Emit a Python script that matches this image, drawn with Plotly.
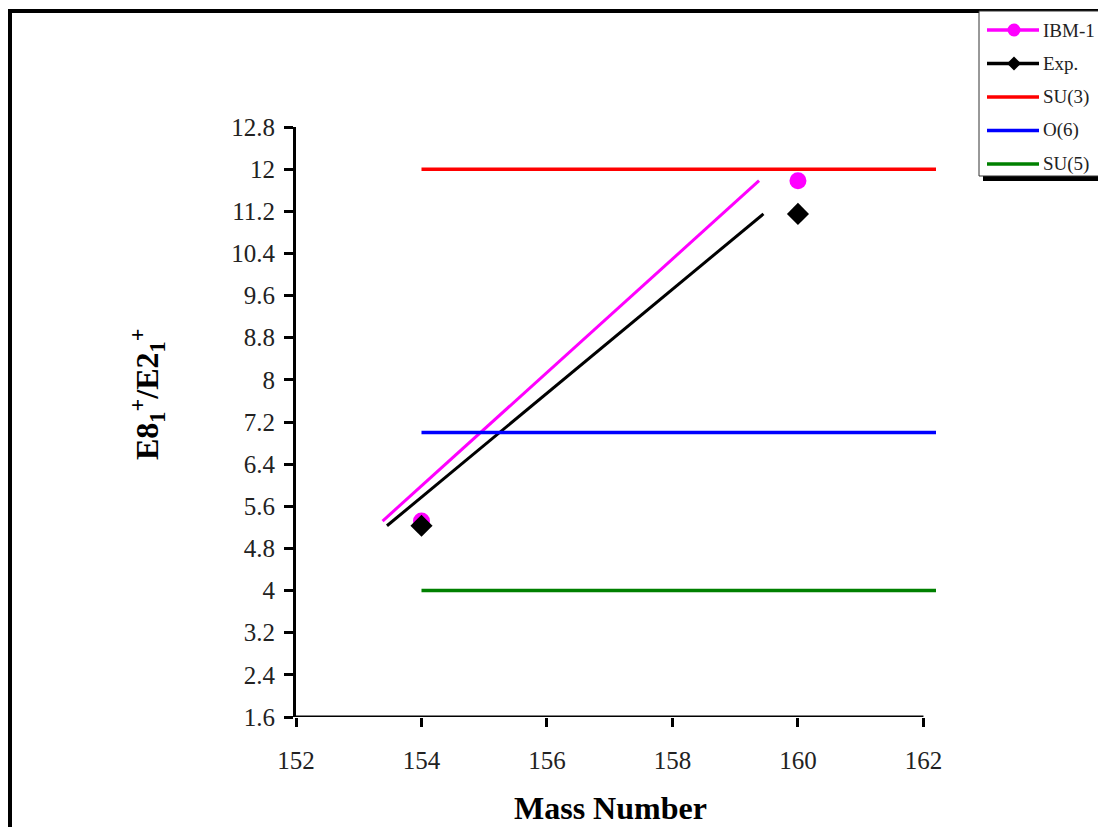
import plotly.graph_objects as go

# ---- data ----
mass = [154, 160]
ibm1 = [5.32, 11.78]
exp_vals = [5.23, 11.15]
ref_x = [154, 162.2]
su3 = [12, 12]
o6 = [7, 7]
su5 = [4, 4]
x_ticks = [152, 154, 156, 158, 160, 162]
y_ticks = [1.6, 2.4, 3.2, 4.0, 4.8, 5.6, 6.4, 7.2, 8.0, 8.8, 9.6, 10.4, 11.2, 12.0, 12.8]
y_tick_text = ["1.6", "2.4", "3.2", "4", "4.8", "5.6", "6.4", "7.2", "8", "8.8", "9.6", "10.4", "11.2", "12", "12.8"]
legend_names = ["IBM-1", "Exp.", "SU(3)", "O(6)", "SU(5)"]
legend_colors = ["#FF00FF", "black", "#FF0000", "#0000FF", "#008000"]
legend_markers = ["circle", "diamond", None, None, None]

# connecting lines appear drawn with a horizontal offset in the original
ibm_shift = -0.62
exp_shift = -0.55

FONT = "Liberation Serif"
OFF = 8  # page body margin

W0, H0 = 1106, 827
W, H = W0 - OFF, H0 - OFF
# plot area in reference pixel coords
PL, PR, PT, PB = 296, 936, 127, 717
L, R, T, B = PL - OFF, W0 - PR, PT - OFF, H0 - PB
pw, ph = PR - PL, PB - PT


def px(xp):
    return (xp - PL) / pw


def py(yp):
    return (PB - yp) / ph


fig = go.Figure()

fig.add_trace(go.Scatter(x=[m + ibm_shift for m in mass], y=ibm1, mode="lines",
                         line=dict(color="#FF00FF", width=3), showlegend=False, hoverinfo="skip"))
fig.add_trace(go.Scatter(x=[m + exp_shift for m in mass], y=exp_vals, mode="lines",
                         line=dict(color="black", width=3), showlegend=False, hoverinfo="skip"))

fig.add_trace(go.Scatter(x=ref_x, y=su3, mode="lines", name="SU(3)",
                         line=dict(color="#FF0000", width=3.5), showlegend=False))
fig.add_trace(go.Scatter(x=ref_x, y=o6, mode="lines", name="O(6)",
                         line=dict(color="#0000FF", width=3.5), showlegend=False))
fig.add_trace(go.Scatter(x=ref_x, y=su5, mode="lines", name="SU(5)",
                         line=dict(color="#008000", width=3.5), showlegend=False))

fig.add_trace(go.Scatter(x=mass, y=ibm1, mode="markers", name="IBM-1",
                         marker=dict(symbol="circle", size=17, color="#FF00FF"), showlegend=False))
fig.add_trace(go.Scatter(x=mass, y=exp_vals, mode="markers", name="Exp.",
                         marker=dict(symbol="diamond", size=17, color="black"), showlegend=False))

shapes = [
    # outer frame
    dict(type="rect", xref="paper", yref="paper", x0=px(10), x1=px(1140), y0=py(860), y1=py(11),
         line=dict(color="black", width=4), layer="below"),
    # x axis line 152..162
    dict(type="line", xref="x", yref="y", x0=152, x1=162, y0=1.6, y1=1.6,
         line=dict(color="black", width=3)),
    # legend shadow
    dict(type="rect", xref="paper", yref="paper", x0=px(983), x1=px(1140), y0=py(181), y1=py(175),
         fillcolor="black", line=dict(width=0)),
    # legend box
    dict(type="rect", xref="paper", yref="paper", x0=px(979), x1=px(1140), y0=py(176), y1=py(11),
         fillcolor="white", line=dict(color="#333", width=1)),
]

annotations = [
    dict(text="<b>Mass Number</b>", xref="paper", yref="paper", x=px(610), y=py(808),
         showarrow=False, font=dict(family=FONT, size=32, color="black"), xanchor="center", yanchor="middle"),
    dict(text="<b>E8<sub>1</sub><sup>+</sup>/E2<sub>1</sub><sup>+</sup></b>", xref="paper", yref="paper",
         x=px(147), y=py(394), textangle=-90, showarrow=False,
         font=dict(family=FONT, size=32, color="black"), xanchor="center", yanchor="middle"),
]

# manual legend
leg_y0, leg_dy = 30, 33.5
for i, (nm, col, mk) in enumerate(zip(legend_names, legend_colors, legend_markers)):
    yy = leg_y0 + i * leg_dy
    shapes.append(dict(type="line", xref="paper", yref="paper", x0=px(987), x1=px(1039),
                       y0=py(yy), y1=py(yy), line=dict(color=col, width=3.5)))
    if mk == "circle":
        r = 6.5
        shapes.append(dict(type="circle", xref="paper", yref="paper", x0=px(1014 - r), x1=px(1014 + r),
                           y0=py(yy + r), y1=py(yy - r), fillcolor=col, line=dict(color=col, width=0)))
    elif mk == "diamond":
        r = 7
        path = "M {} {} L {} {} L {} {} L {} {} Z".format(
            px(1014), py(yy - r), px(1014 + r), py(yy), px(1014), py(yy + r), px(1014 - r), py(yy))
        shapes.append(dict(type="path", xref="paper", yref="paper", path=path,
                           fillcolor=col, line=dict(color=col, width=0)))
    annotations.append(dict(text=nm, xref="paper", yref="paper", x=px(1041), y=py(yy),
                            xanchor="left", yanchor="middle", showarrow=False,
                            font=dict(family=FONT, size=19, color="#222")))

fig.update_layout(
    width=W, height=H,
    margin=dict(l=L, r=R, t=T, b=B),
    paper_bgcolor="white", plot_bgcolor="white",
    font=dict(family=FONT, color="black"),
    shapes=shapes,
    annotations=annotations,
    showlegend=False,
    xaxis=dict(range=[152, 162.2], tickvals=x_ticks, ticktext=[str(v) for v in x_ticks],
               showgrid=False, zeroline=False, showline=False,
               ticks="outside", ticklen=9, tickwidth=3, tickcolor="black",
               tickfont=dict(family=FONT, size=25, color="#222"), ticklabelstandoff=12),
    yaxis=dict(range=[1.6, 12.8], tickvals=y_ticks, ticktext=y_tick_text,
               showgrid=False, zeroline=False, showline=True, linecolor="black", linewidth=3,
               ticks="outside", ticklen=9, tickwidth=3, tickcolor="black",
               tickfont=dict(family=FONT, size=25, color="#222"), ticklabelstandoff=4),
)

fig.write_html("out.html")
